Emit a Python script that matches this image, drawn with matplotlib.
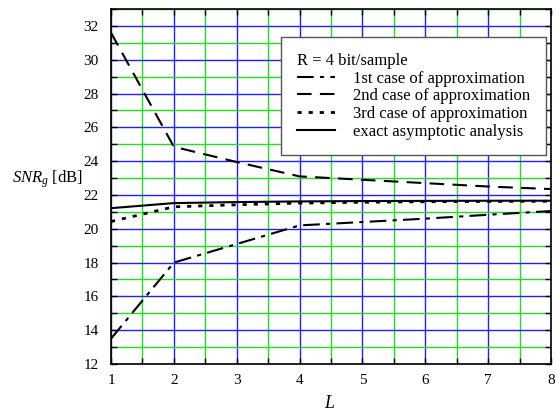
import matplotlib.pyplot as plt
from matplotlib.ticker import MultipleLocator

L = [1, 2, 3, 4, 5, 6, 7, 8]
case1 = [13.5, 18.0, 19.1, 20.2, 20.4, 20.6, 20.83, 21.05]
case2 = [31.6, 24.85, 23.95, 23.1, 22.9, 22.7, 22.5, 22.35]
case3 = [20.43, 21.3, 21.42, 21.52, 21.57, 21.6, 21.62, 21.63]
exact = [21.22, 21.52, 21.58, 21.62, 21.64, 21.65, 21.66, 21.66]

plt.rcParams['font.family'] = ['Liberation Serif', 'DejaVu Serif']
plt.rcParams['mathtext.fontset'] = 'custom'
plt.rcParams['mathtext.it'] = 'Liberation Serif:italic'
plt.rcParams['mathtext.rm'] = 'Liberation Serif'

fig = plt.figure(figsize=(5.57, 4.12), dpi=100)
ax = fig.add_axes([0.1993, 0.1165, 0.79, 0.8615])

ax.set_xlim(1, 8)
ax.set_ylim(12, 33)
ax.xaxis.set_major_locator(MultipleLocator(1))
ax.xaxis.set_minor_locator(MultipleLocator(0.5))
ax.yaxis.set_major_locator(MultipleLocator(2))
ax.yaxis.set_minor_locator(MultipleLocator(1))

# grid: blue on major, green on minor
ax.grid(which='major', color='#2020ff', linewidth=1.0)
ax.grid(which='minor', color='#20e020', linewidth=1.0)
ax.set_axisbelow(True)

ax.tick_params(which='both', direction='in', top=True, right=True,
               labelsize=11, length=4, width=1)
ax.tick_params(axis='x', pad=7)
ax.tick_params(axis='y', pad=9)
for s in ax.spines.values():
    s.set_linewidth(1.2)

ax.plot(L, case1, color='black', lw=1.5, dashes=(8, 3, 2, 3),
        label='1st case of approximation')
ax.plot(L, case2, color='black', lw=1.5, dashes=(7, 4),
        label='2nd case of approximation')
ax.plot(L, case3, color='black', lw=2.0, dashes=(1.5, 2.5),
        label='3rd case of approximation')
ax.plot(L, exact, color='black', lw=1.5, label='exact asymptotic analysis')

leg = ax.legend(title='R = 4 bit/sample', loc='upper right',
                bbox_to_anchor=(0.989, 0.921), borderaxespad=0,
                fontsize=12, title_fontsize=12, fancybox=False, framealpha=1,
                edgecolor='#555555', handlelength=2.3, handletextpad=1.1,
                borderpad=0.95, labelspacing=0.1)
leg._legend_box.align = 'left'
leg.get_frame().set_linewidth(1.0)

ax.set_xlabel('$L$', fontsize=13)
ax.xaxis.set_label_coords(0.498, -0.11)
ax.xaxis.label.set_va('center')
ax.set_ylabel(r'$SNR_g$ [dB]', fontsize=12, rotation=0, ha='center', va='center')
ax.yaxis.set_label_coords(-0.145, 0.522)

fig.savefig('out.png', dpi=100)
